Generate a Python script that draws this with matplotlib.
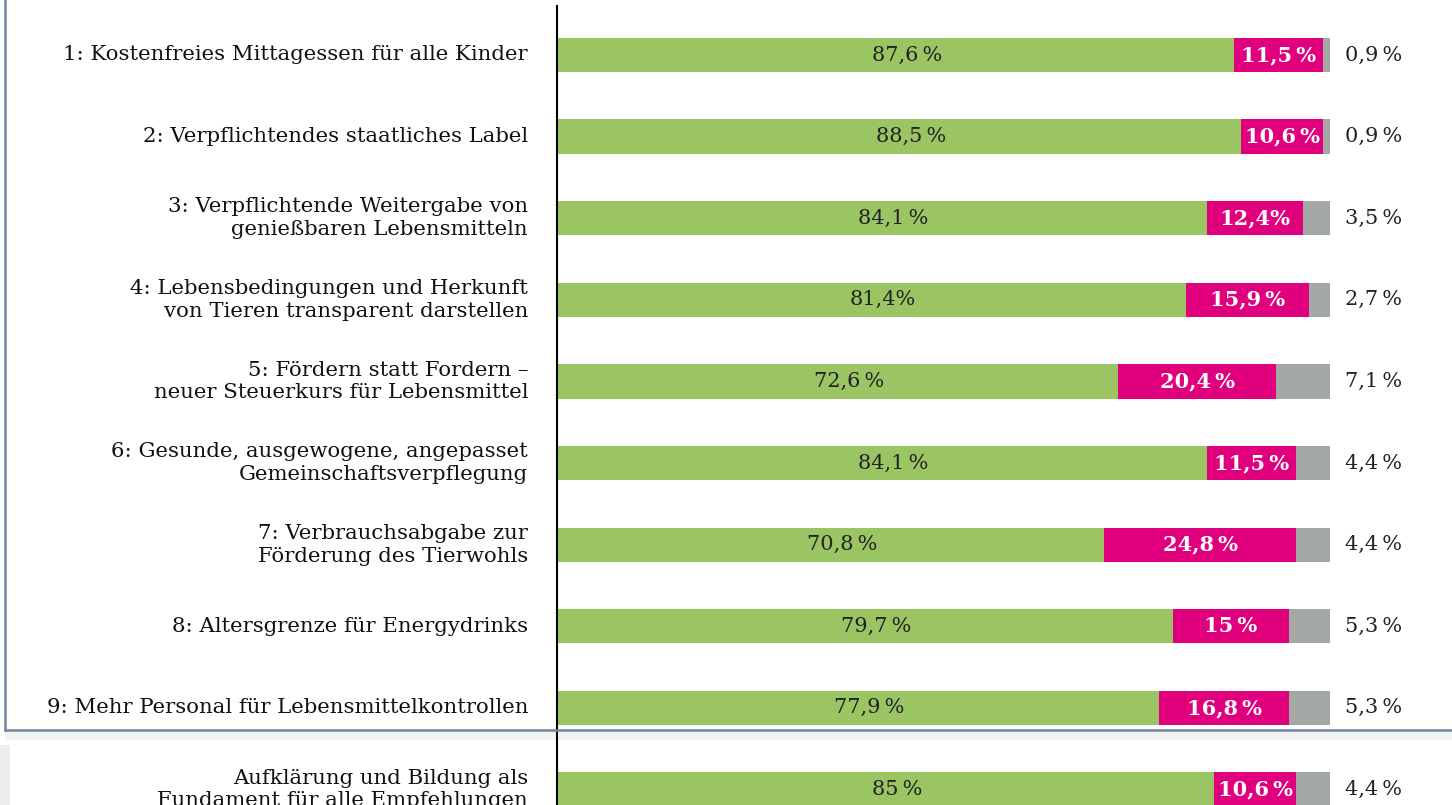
import matplotlib
matplotlib.use("Agg")
import matplotlib.pyplot as plt
from matplotlib.lines import Line2D
from matplotlib.patches import Rectangle

plt.rcParams['font.family'] = ['DejaVu Serif']

labels = [
    "1: Kostenfreies Mittagessen für alle Kinder",
    "2: Verpflichtendes staatliches Label",
    "3: Verpflichtende Weitergabe von\ngenießbaren Lebensmitteln",
    "4: Lebensbedingungen und Herkunft\nvon Tieren transparent darstellen",
    "5: Fördern statt Fordern –\nneuer Steuerkurs für Lebensmittel",
    "6: Gesunde, ausgewogene, angepasset\nGemeinschaftsverpflegung",
    "7: Verbrauchsabgabe zur\nFörderung des Tierwohls",
    "8: Altersgrenze für Energydrinks",
    "9: Mehr Personal für Lebensmittelkontrollen",
    "Aufklärung und Bildung als\nFundament für alle Empfehlungen",
]
yes_vals = [87.6, 88.5, 84.1, 81.4, 72.6, 84.1, 70.8, 79.7, 77.9, 85.0]
no_vals = [11.5, 10.6, 12.4, 15.9, 20.4, 11.5, 24.8, 15.0, 16.8, 10.6]
rest_vals = [0.9, 0.9, 3.5, 2.7, 7.1, 4.4, 4.4, 5.3, 5.3, 4.4]
yes_text = ["87,6\u2009%", "88,5\u2009%", "84,1\u2009%", "81,4%", "72,6\u2009%",
            "84,1\u2009%", "70,8\u2009%", "79,7\u2009%", "77,9\u2009%", "85\u2009%"]
no_text = ["11,5\u2009%", "10,6\u2009%", "12,4%", "15,9\u2009%", "20,4\u2009%",
           "11,5\u2009%", "24,8\u2009%", "15\u2009%", "16,8\u2009%", "10,6\u2009%"]
rest_text = ["0,9\u2009%", "0,9\u2009%", "3,5\u2009%", "2,7\u2009%", "7,1\u2009%",
             "4,4\u2009%", "4,4\u2009%", "5,3\u2009%", "5,3\u2009%", "4,4\u2009%"]

GREEN = "#9bc563"
PINK = "#e0007e"
GRAY = "#a4a8a5"

W, H = 1452, 805
fig = plt.figure(figsize=(W / 100, H / 100), dpi=100)
fig.patch.set_facecolor("white")

# axes: x 0..100 spans pixels 557..1330, rows spaced ~81.6 px
ax = fig.add_axes([557 / W, 0, 773 / W, (H - 6) / H])
ax.patch.set_alpha(0)
ax.set_xlim(0, 100)
ax.set_ylim(9.19, -0.6)

y = list(range(len(labels)))
bh = 0.42
lefts2 = [a for a in yes_vals]
lefts3 = [a + b for a, b in zip(yes_vals, no_vals)]
ax.barh(y, yes_vals, height=bh, color=GREEN, zorder=1)
ax.barh(y, no_vals, left=lefts2, height=bh, color=PINK, zorder=1)
ax.barh(y, rest_vals, left=lefts3, height=bh, color=GRAY, zorder=1)

for i in y:
    ax.text(yes_vals[i] / 2 + 1.5, i, yes_text[i], ha="center", va="center",
            fontsize=15, color="#222222")
    ax.text(lefts2[i] + no_vals[i] / 2, i, no_text[i], ha="center", va="center",
            fontsize=15, color="white", fontweight="semibold")
    ax.text(101.9, i, rest_text[i], ha="left", va="center",
            fontsize=15, color="#222222", clip_on=False)
    ax.text(-3.75, i, labels[i], ha="right", va="center", fontsize=15.3,
            color="#111111", linespacing=1.25, clip_on=False)

for s in ["top", "right", "bottom"]:
    ax.spines[s].set_visible(False)
ax.spines["left"].set_linewidth(1.5)
ax.spines["left"].set_color("black")
ax.spines["left"].set_zorder(3)
ax.set_xticks([])
ax.set_yticks([])

# frame around the upper block, with a faint shadow below it
fy = 1 - 730 / H
fx = 5 / W
fig.add_artist(Rectangle((fx, fy - 10 / H), 1, 10 / H, transform=fig.transFigure,
                         facecolor="#f3f3f3", edgecolor="none", zorder=-1))
fig.add_artist(Line2D([fx, fx], [fy, 1], transform=fig.transFigure,
                      color="#6f86a0", lw=1.8))
fig.add_artist(Line2D([fx, 1], [fy, fy], transform=fig.transFigure,
                      color="#6f86a0", lw=1.8))
fig.add_artist(Rectangle((0, 0), 10 / W, 1 - 745 / H, transform=fig.transFigure,
                         facecolor="#ececec", edgecolor="none", zorder=-1))

fig.savefig("out.png", dpi=100)
